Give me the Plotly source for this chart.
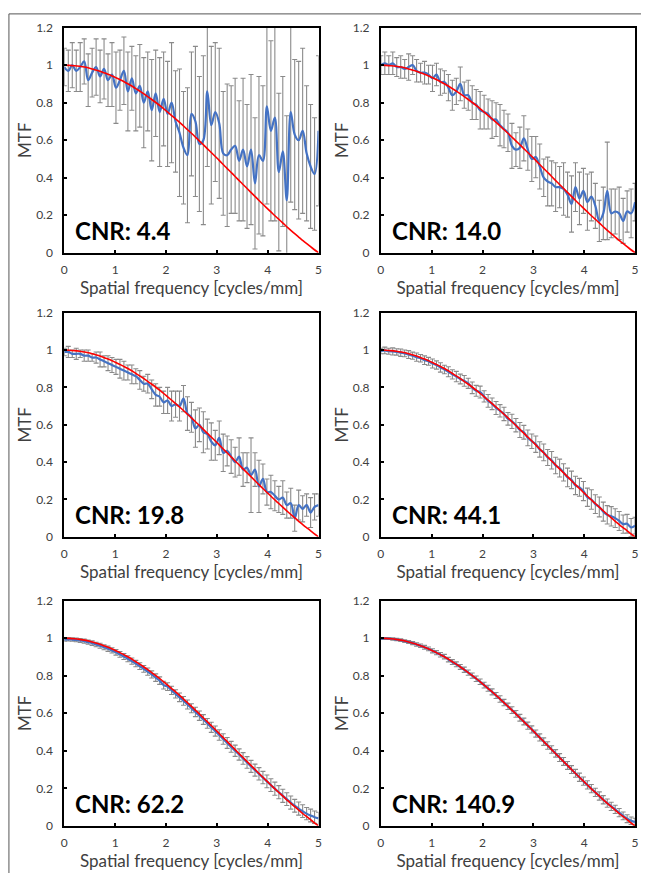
import plotly.graph_objects as go

# ---------------- data ----------------
freq = [k * 5 / 64 for k in range(65)]                  # spatial frequency samples [cycles/mm]
freq_fit = [round(i * 0.1, 1) for i in range(51)]       # grid of the theoretical curve

mtf_theory = [1.000, 0.999, 0.997, 0.994, 0.990, 0.984, 0.976, 0.968, 0.958, 0.948,
              0.935, 0.922, 0.908, 0.893, 0.876, 0.859, 0.840, 0.821, 0.801, 0.780,
              0.757, 0.734, 0.711, 0.687, 0.662, 0.637, 0.611, 0.585, 0.558, 0.532,
              0.505, 0.477, 0.450, 0.423, 0.395, 0.368, 0.341, 0.314, 0.287, 0.260,
              0.234, 0.208, 0.183, 0.158, 0.133, 0.109, 0.086, 0.063, 0.042, 0.020,
              0.000]

cnr_labels = ["CNR: 4.4", "CNR: 14.0", "CNR: 19.8", "CNR: 44.1", "CNR: 62.2", "CNR: 140.9"]

mtf_cnr_4_4 = [0.99, 0.97, 1.00, 0.97, 0.99, 1.02, 0.92, 0.96, 0.99, 0.94,
               0.98, 0.92, 0.95, 0.88, 0.92, 0.97, 0.86, 0.93, 0.85, 0.89,
               0.80, 0.86, 0.76, 0.85, 0.75, 0.82, 0.74, 0.80, 0.70, 0.64,
               0.56, 0.52, 0.74, 0.70, 0.58, 0.60, 0.86, 0.68, 0.75, 0.69,
               0.53, 0.52, 0.55, 0.57, 0.49, 0.55, 0.46, 0.55, 0.37, 0.52,
               0.49, 0.78, 0.65, 0.72, 0.43, 0.54, 0.28, 0.75, 0.63, 0.60,
               0.65, 0.53, 0.46, 0.42, 0.65]
err_cnr_4_4 = [0.10, 0.11, 0.12, 0.11, 0.13, 0.12, 0.14, 0.13, 0.15, 0.14,
               0.16, 0.14, 0.17, 0.19, 0.16, 0.18, 0.21, 0.17, 0.20, 0.22,
               0.24, 0.21, 0.27, 0.23, 0.29, 0.25, 0.28, 0.32, 0.27, 0.34,
               0.30, 0.36, 0.33, 0.40, 0.36, 0.45, 0.40, 0.42, 0.37, 0.40,
               0.33, 0.38, 0.34, 0.36, 0.32, 0.38, 0.33, 0.40, 0.35, 0.42,
               0.40, 0.52, 0.48, 0.55, 0.42, 0.40, 0.45, 0.48, 0.40, 0.42,
               0.44, 0.36, 0.33, 0.30, 0.40]

mtf_cnr_14_0 = [1.00, 1.01, 1.00, 1.01, 0.99, 0.99, 0.98, 0.99, 1.00, 0.97,
                0.96, 0.96, 0.95, 0.93, 0.95, 0.91, 0.91, 0.88, 0.84, 0.86,
                0.90, 0.84, 0.84, 0.80, 0.79, 0.76, 0.75, 0.74, 0.71, 0.71,
                0.68, 0.66, 0.64, 0.57, 0.55, 0.56, 0.61, 0.55, 0.50, 0.51,
                0.46, 0.40, 0.38, 0.37, 0.35, 0.35, 0.34, 0.31, 0.26, 0.35,
                0.29, 0.33, 0.27, 0.30, 0.25, 0.17, 0.21, 0.33, 0.21, 0.22,
                0.21, 0.17, 0.22, 0.21, 0.27]
err_cnr_14_0 = [0.05, 0.06, 0.05, 0.06, 0.05, 0.06, 0.05, 0.07, 0.05, 0.06,
                0.05, 0.06, 0.05, 0.07, 0.06, 0.07, 0.06, 0.07, 0.08, 0.07,
                0.09, 0.07, 0.08, 0.09, 0.08, 0.10, 0.09, 0.08, 0.10, 0.09,
                0.11, 0.10, 0.10, 0.12, 0.09, 0.11, 0.12, 0.11, 0.12, 0.11,
                0.12, 0.10, 0.13, 0.12, 0.13, 0.11, 0.14, 0.12, 0.15, 0.13,
                0.14, 0.12, 0.15, 0.13, 0.12, 0.11, 0.14, 0.26, 0.13, 0.12,
                0.14, 0.12, 0.11, 0.13, 0.10]

mtf_cnr_19_8 = [0.99, 0.99, 0.98, 0.98, 0.98, 0.97, 0.97, 0.96, 0.96, 0.95,
                0.94, 0.93, 0.92, 0.91, 0.90, 0.89, 0.88, 0.87, 0.86, 0.84,
                0.82, 0.82, 0.79, 0.76, 0.75, 0.72, 0.73, 0.70, 0.71, 0.70,
                0.74, 0.66, 0.64, 0.58, 0.60, 0.56, 0.55, 0.51, 0.49, 0.53,
                0.45, 0.46, 0.43, 0.40, 0.43, 0.36, 0.37, 0.33, 0.36, 0.27,
                0.31, 0.24, 0.24, 0.22, 0.20, 0.21, 0.17, 0.18, 0.10, 0.17,
                0.15, 0.17, 0.13, 0.16, 0.17]
err_cnr_19_8 = [0.02, 0.03, 0.02, 0.03, 0.02, 0.03, 0.03, 0.02, 0.03, 0.04,
                0.03, 0.04, 0.04, 0.04, 0.05, 0.05, 0.04, 0.05, 0.04, 0.05,
                0.04, 0.05, 0.05, 0.06, 0.05, 0.06, 0.07, 0.08, 0.07, 0.08,
                0.07, 0.09, 0.08, 0.10, 0.09, 0.11, 0.08, 0.10, 0.08, 0.09,
                0.10, 0.08, 0.09, 0.08, 0.10, 0.09, 0.08, 0.20, 0.09, 0.14,
                0.08, 0.07, 0.09, 0.08, 0.07, 0.09, 0.07, 0.08, 0.07, 0.08,
                0.07, 0.06, 0.08, 0.07, 0.06]

mtf_cnr_44_1 = [0.995, 0.998, 0.994, 0.993, 0.990, 0.986, 0.982, 0.976, 0.970, 0.962,
                0.956, 0.946, 0.940, 0.928, 0.920, 0.907, 0.896, 0.884, 0.870, 0.858,
                0.845, 0.835, 0.822, 0.798, 0.782, 0.775, 0.752, 0.728, 0.712, 0.690,
                0.675, 0.658, 0.632, 0.618, 0.598, 0.572, 0.560, 0.530, 0.512, 0.496,
                0.468, 0.452, 0.425, 0.410, 0.382, 0.368, 0.345, 0.318, 0.305, 0.275,
                0.265, 0.245, 0.212, 0.200, 0.175, 0.160, 0.135, 0.118, 0.110, 0.100,
                0.085, 0.068, 0.070, 0.050, 0.060]
err_cnr_44_1 = [0.015, 0.018, 0.016, 0.019, 0.017, 0.020, 0.018, 0.021, 0.019, 0.022,
                0.020, 0.023, 0.021, 0.024, 0.022, 0.025, 0.023, 0.027, 0.025, 0.028,
                0.026, 0.029, 0.027, 0.031, 0.029, 0.032, 0.030, 0.034, 0.031, 0.035,
                0.033, 0.036, 0.034, 0.038, 0.036, 0.040, 0.037, 0.042, 0.039, 0.044,
                0.041, 0.045, 0.043, 0.047, 0.044, 0.048, 0.046, 0.050, 0.047, 0.049,
                0.048, 0.051, 0.049, 0.052, 0.050, 0.053, 0.051, 0.049, 0.052, 0.050,
                0.051, 0.049, 0.050, 0.048, 0.045]

mtf_cnr_62_2 = [0.992, 0.994, 0.993, 0.991, 0.988, 0.984, 0.979, 0.974, 0.967, 0.960,
                0.952, 0.944, 0.935, 0.925, 0.914, 0.903, 0.891, 0.878, 0.865, 0.851,
                0.837, 0.822, 0.807, 0.790, 0.774, 0.750, 0.742, 0.722, 0.703, 0.685,
                0.666, 0.647, 0.627, 0.607, 0.587, 0.567, 0.546, 0.525, 0.505, 0.484,
                0.463, 0.442, 0.421, 0.400, 0.380, 0.359, 0.338, 0.317, 0.297, 0.277,
                0.257, 0.237, 0.217, 0.198, 0.179, 0.160, 0.142, 0.124, 0.107, 0.092,
                0.078, 0.065, 0.055, 0.046, 0.040]
err_cnr_62_2 = [0.008, 0.009, 0.009, 0.010, 0.010, 0.011, 0.011, 0.012, 0.012, 0.013,
                0.013, 0.014, 0.014, 0.015, 0.015, 0.016, 0.016, 0.017, 0.017, 0.018,
                0.018, 0.019, 0.019, 0.020, 0.020, 0.021, 0.021, 0.022, 0.022, 0.023,
                0.023, 0.024, 0.024, 0.025, 0.025, 0.026, 0.026, 0.027, 0.027, 0.028,
                0.028, 0.029, 0.029, 0.030, 0.030, 0.031, 0.031, 0.032, 0.032, 0.033,
                0.033, 0.034, 0.034, 0.035, 0.035, 0.035, 0.034, 0.035, 0.034, 0.035,
                0.034, 0.033, 0.034, 0.033, 0.032]

mtf_cnr_140_9 = [0.998, 0.999, 0.998, 0.996, 0.993, 0.990, 0.985, 0.980, 0.974, 0.967,
                 0.960, 0.952, 0.943, 0.933, 0.923, 0.912, 0.902, 0.886, 0.873, 0.861,
                 0.847, 0.832, 0.817, 0.801, 0.784, 0.768, 0.750, 0.733, 0.714, 0.695,
                 0.676, 0.657, 0.637, 0.617, 0.597, 0.576, 0.556, 0.534, 0.514, 0.492,
                 0.471, 0.449, 0.428, 0.407, 0.386, 0.364, 0.343, 0.322, 0.300, 0.280,
                 0.259, 0.238, 0.218, 0.198, 0.178, 0.159, 0.139, 0.121, 0.104, 0.088,
                 0.070, 0.053, 0.038, 0.027, 0.020]
err_cnr_140_9 = [0.004, 0.005, 0.005, 0.006, 0.006, 0.007, 0.007, 0.008, 0.008, 0.009,
                 0.009, 0.010, 0.010, 0.011, 0.011, 0.012, 0.012, 0.012, 0.013, 0.013,
                 0.013, 0.014, 0.014, 0.014, 0.015, 0.015, 0.015, 0.016, 0.016, 0.016,
                 0.017, 0.017, 0.017, 0.018, 0.018, 0.018, 0.018, 0.019, 0.019, 0.019,
                 0.019, 0.020, 0.020, 0.020, 0.020, 0.021, 0.021, 0.021, 0.021, 0.021,
                 0.022, 0.022, 0.022, 0.022, 0.022, 0.022, 0.022, 0.022, 0.022, 0.022,
                 0.022, 0.021, 0.021, 0.020, 0.020]

x_ticks = [0, 1, 2, 3, 4, 5]
y_ticks = [0, 0.2, 0.4, 0.6, 0.8, 1, 1.2]
x_title = "Spatial frequency [cycles/mm]"
y_title = "MTF"

panels = [
    (mtf_cnr_4_4, err_cnr_4_4),
    (mtf_cnr_14_0, err_cnr_14_0),
    (mtf_cnr_19_8, err_cnr_19_8),
    (mtf_cnr_44_1, err_cnr_44_1),
    (mtf_cnr_62_2, err_cnr_62_2),
    (mtf_cnr_140_9, err_cnr_140_9),
]

# ---------------- layout geometry (pixels) ----------------
W, H = 645, 880
col_px = [(62, 319), (382, 639)]
row_px = [(20, 249), (310, 538), (603, 832)]

FONT = "Lato, 'Open Sans', 'Liberation Sans', sans-serif"
BLUE = "#4472C4"
GRAY = "#8a8a8a"
TXT = "#404040"

fig = go.Figure()
layout = dict(
    width=W, height=H,
    margin=dict(l=0, r=0, t=0, b=0),
    paper_bgcolor="white", plot_bgcolor="white",
    showlegend=False,
    font=dict(family=FONT, color=TXT),
    annotations=[], shapes=[],
)

for i, (vals, errs) in enumerate(panels):
    r, c = divmod(i, 2)
    n = i + 1
    xa = "x" if n == 1 else f"x{n}"
    ya = "y" if n == 1 else f"y{n}"
    x0, x1 = col_px[c]
    y0, y1 = row_px[r]

    # error bars (drawn beneath the line)
    fig.add_trace(go.Scatter(
        x=freq, y=vals, mode="markers", xaxis=xa, yaxis=ya,
        marker=dict(size=1, color="rgba(0,0,0,0)"),
        error_y=dict(type="data", array=errs, visible=True,
                     color=GRAY, thickness=1.1, width=2.5),
        hoverinfo="skip",
    ))
    # measured MTF
    fig.add_trace(go.Scatter(
        x=freq, y=vals, mode="lines", xaxis=xa, yaxis=ya,
        line=dict(color=BLUE, width=2.2, shape="spline", smoothing=1.0),
    ))
    # theoretical MTF
    fig.add_trace(go.Scatter(
        x=freq_fit, y=mtf_theory, mode="lines", xaxis=xa, yaxis=ya,
        line=dict(color="#FF0000", width=1.6, shape="spline"),
    ))

    axis_common = dict(
        showline=True, linecolor="black", linewidth=2, mirror=True,
        showgrid=False, zeroline=False,
        ticks="inside", ticklen=3, tickwidth=1.5, tickcolor="black",
        tickfont=dict(size=12, color=TXT, family=FONT),
    )
    layout["xaxis" + ("" if n == 1 else str(n))] = dict(
        axis_common, domain=[x0 / W, x1 / W], anchor=ya, range=[0, 5],
        tickvals=x_ticks, ticklabelstandoff=5,
        title=dict(text=x_title, font=dict(size=17, color=TXT, family=FONT), standoff=0),
    )
    layout["yaxis" + ("" if n == 1 else str(n))] = dict(
        axis_common, domain=[1 - y1 / H, 1 - y0 / H], anchor=xa, range=[0, 1.2],
        tickvals=y_ticks, ticklabelstandoff=7,
        title=dict(text=y_title, font=dict(size=17, color=TXT, family=FONT), standoff=0),
    )
    layout["annotations"].append(dict(
        text="<b>" + cnr_labels[i] + "</b>", xref=xa + " domain", yref=ya + " domain",
        x=0.035, y=0.1, xanchor="left", yanchor="middle", showarrow=False,
        font=dict(size=24, color="black", family=FONT),
    ))

# outer frame (top and left edges visible)
layout["shapes"] += [
    dict(type="line", xref="paper", yref="paper", x0=6 / W, x1=6 / W, y0=0, y1=1 - 6 / H,
         line=dict(color="#555555", width=1)),
    dict(type="line", xref="paper", yref="paper", x0=6 / W, x1=1, y0=1 - 6 / H, y1=1 - 6 / H,
         line=dict(color="#555555", width=1)),
]

fig.update_layout(**layout)
fig.write_html(
    "out.html",
    config={"displayModeBar": False},
    post_script="document.body.style.margin='0';document.body.style.overflow='hidden';",
)
